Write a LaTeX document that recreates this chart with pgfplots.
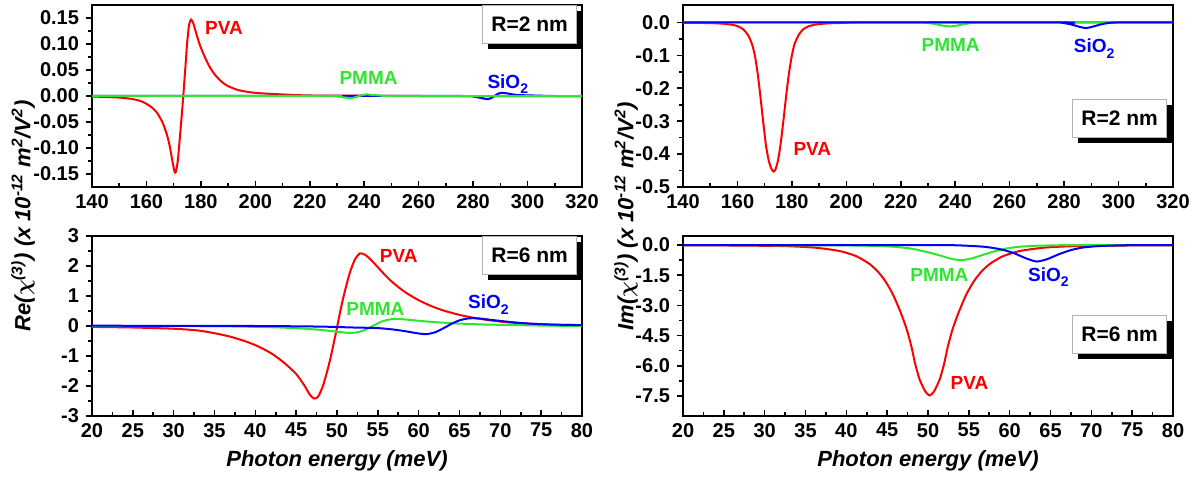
\documentclass[border=0pt]{standalone}
\usepackage{fontspec}
\setmainfont{Liberation Sans}
\usepackage{pgfplots}
\pgfplotsset{compat=1.18}
\usetikzlibrary{shadows}

\definecolor{cred}{RGB}{255,0,0}
\definecolor{cgreen}{RGB}{45,230,45}
\definecolor{cblue}{RGB}{0,0,255}

\newcommand{\sio}{SiO\raisebox{-0.55ex}{\fontsize{7}{8}\selectfont 2}}

\pgfplotsset{
  panel/.style={
    scale only axis, width=245pt,
    axis line style={line width=1pt},
    tick pos=left,
    xtick align=inside, ytick align=outside,
    major tick length=3pt, minor tick length=1.8pt,
    every tick/.style={black, line width=0.8pt},
    minor tick num=1,
    tick label style={font=\bfseries\fontsize{10}{12}\selectfont},
    /pgf/number format/assume math mode=true,
    clip mode=individual,
    every axis plot/.append style={line width=1pt, smooth, tension=0.4},
    xlabel style={font=\bfseries\itshape\fontsize{11}{13}\selectfont},
  },
}
\tikzset{
  lbl/.style={font=\bfseries\fontsize{9.5}{11}\selectfont},
  rbox/.style={draw=gray!60, line width=0.5pt, fill=white,
    minimum width=47pt, minimum height=19pt, inner sep=0pt,
    font=\bfseries\fontsize{10.5}{12}\selectfont,
    drop shadow={shadow xshift=2.8pt, shadow yshift=-2.8pt, fill=black, opacity=1}},
}

\begin{document}
\begin{tikzpicture}
\useasboundingbox (0,0) rectangle (596.5pt,238.5pt);

% Re, R=2 nm
\begin{axis}[panel, at={(46pt,145pt)}, anchor=south west, height=91pt,
  xmin=140, xmax=320, xtick={140,160,...,320},
  ymin=-0.175, ymax=0.175, ytick={-0.15,-0.1,-0.05,0,0.05,0.1,0.15},
  yticklabel style={/pgf/number format/.cd, fixed, fixed zerofill, precision=2}]
\addplot[cred] coordinates {
 (140,-0.001)(150,-0.003)(155,-0.006)(158,-0.010)(160,-0.015)(162,-0.022)
 (164,-0.033)(166,-0.052)(167.5,-0.074)(168.5,-0.095)(169.5,-0.124)(170.3,-0.145)
 (170.8,-0.146)(171.5,-0.125)(172.2,-0.085)(173,-0.035)(173.6,0.005)(174.3,0.055)
 (175,0.105)(175.7,0.138)(176.4,0.147)(177.2,0.140)(178.2,0.122)(179.5,0.100)
 (181,0.080)(183,0.058)(185,0.042)(187.5,0.028)(190,0.019)(194,0.011)(200,0.006)
 (210,0.003)(220,0.001)(240,0.0005)(260,0)(320,0)};
\addplot[cblue] coordinates {
 (140,0)(276,0)(280,-0.001)(283,-0.004)(285.5,-0.006)(287.3,-0.002)(289,0.004)
 (290.5,0.006)(292.5,0.005)(296,0.002)(302,0.001)(310,0)(320,0)};
\addplot[cgreen] coordinates {
 (140,0)(226,0)(230,-0.001)(233,-0.003)(235.5,-0.004)(237.5,-0.001)(239.5,0.002)
 (241,0.003)(243,0.002)(246,0.001)(252,0)(320,0)};
\node[lbl, text=cred, anchor=west] at (axis cs:179,0.13) {PVA};
\node[lbl, text=cgreen] at (axis cs:241.6,0.035) {PMMA};
\node[lbl, text=cblue, anchor=west] at (axis cs:282.7,0.023) {\sio};
\node[rbox, anchor=north east] at (rel axis cs:0.99,1) {R=2 nm};
\end{axis}

% Im, R=2 nm
\begin{axis}[panel, at={(341.5pt,145pt)}, anchor=south west, height=91pt,
  xmin=140, xmax=320, xtick={140,160,...,320},
  ymin=-0.5, ymax=0.053, ytick={-0.5,-0.4,-0.3,-0.2,-0.1,0},
  yticklabel style={/pgf/number format/.cd, fixed, fixed zerofill, precision=1}]
\addplot[cred] coordinates {
 (140,-0.001)(150,-0.002)(155,-0.004)(158,-0.007)(160,-0.011)(162,-0.020)
 (164,-0.040)(165.5,-0.070)(166.5,-0.105)(167.5,-0.160)(168.5,-0.230)(169.5,-0.305)
 (170.5,-0.375)(171.5,-0.420)(172.5,-0.445)(173.3,-0.453)(174,-0.446)(175,-0.415)
 (176,-0.360)(177,-0.290)(178,-0.215)(179,-0.150)(180,-0.100)(181,-0.065)
 (182.5,-0.038)(184,-0.022)(186,-0.012)(189,-0.006)(193,-0.003)(200,-0.001)
 (210,0)(320,0)};
\addplot[cgreen] coordinates {
 (140,0)(225,0)(229,-0.001)(232,-0.004)(235,-0.009)(238,-0.012)(241,-0.009)
 (244,-0.004)(247,-0.001)(251,0)(320,0)};
\addplot[cblue] coordinates {
 (140,0)(276,0)(280,-0.002)(283,-0.007)(286,-0.014)(288,-0.017)(290,-0.014)
 (293,-0.007)(296,-0.002)(300,0)(320,0)};
\node[lbl, text=cred, anchor=west] at (axis cs:178,-0.385) {PVA};
\node[lbl, text=cgreen] at (axis cs:238.3,-0.067) {PMMA};
\node[lbl, text=cblue, anchor=west] at (axis cs:281,-0.08) {\sio};
\node[rbox, anchor=north east] at (rel axis cs:0.988,0.484) {R=2 nm};
\end{axis}

% Re, R=6 nm
\begin{axis}[panel, at={(46pt,30.5pt)}, anchor=south west, height=90pt,
  xmin=20, xmax=80, xtick={20,25,...,80},
  ymin=-3, ymax=3, ytick={-3,-2,-1,0,1,2,3},
  xlabel={Photon energy (meV)}]
\addplot[cred] coordinates {
 (20,-0.03)(25,-0.05)(30,-0.09)(33,-0.15)(35,-0.24)(37,-0.36)(39,-0.53)
 (40.5,-0.70)(42,-0.92)(43.5,-1.22)(45,-1.60)(46,-1.98)(46.7,-2.30)(47.2,-2.42)
 (47.7,-2.35)(48.3,-1.98)(49,-1.30)(49.5,-0.70)(50,-0.05)(50.5,0.62)(51,1.20)
 (51.6,1.80)(52.2,2.22)(52.8,2.42)(53.4,2.38)(54,2.25)(54.8,2.02)(55.6,1.78)
 (56.5,1.53)(57.5,1.30)(58.5,1.10)(60,0.86)(61.5,0.67)(63,0.52)(65,0.37)
 (67,0.26)(69,0.18)(71,0.12)(74,0.07)(77,0.04)(80,0.03)};
\addplot[cgreen] coordinates {
 (20,0)(35,-0.01)(40,-0.03)(43,-0.05)(46,-0.09)(48,-0.13)(50,-0.19)(51.5,-0.23)
 (52.5,-0.21)(53.5,-0.12)(54.5,0.02)(55.5,0.15)(56.5,0.22)(57.5,0.24)(59,0.20)
 (61,0.15)(63,0.11)(65,0.08)(68,0.05)(72,0.03)(76,0.01)(80,0.005)};
\addplot[cblue] coordinates {
 (20,0.01)(40,0)(48,-0.02)(52,-0.05)(55,-0.07)(57,-0.12)(58.5,-0.18)(60,-0.25)
 (61,-0.27)(62,-0.21)(63,-0.08)(64,0.07)(65,0.19)(66,0.25)(66.7,0.26)(67.5,0.25)
 (69,0.20)(71,0.14)(73,0.09)(76,0.05)(80,0.03)};
\node[lbl, text=cred, anchor=west] at (axis cs:54.4,2.35) {PVA};
\node[lbl, text=cgreen] at (axis cs:54.7,0.58) {PMMA};
\node[lbl, text=cblue, anchor=west] at (axis cs:65.2,0.72) {\sio};
\node[rbox, anchor=north east] at (rel axis cs:0.99,1) {R=6 nm};
\end{axis}

% Im, R=6 nm
\begin{axis}[panel, at={(341.5pt,30.5pt)}, anchor=south west, height=90pt,
  xmin=20, xmax=80, xtick={20,25,...,80},
  ymin=-8.5, ymax=0.45, ytick={-7.5,-6,-4.5,-3,-1.5,0},
  yticklabel style={/pgf/number format/.cd, fixed, fixed zerofill, precision=1},
  xlabel={Photon energy (meV)}]
\addplot[cred] coordinates {
 (20,-0.01)(25,-0.02)(32.2,-0.05)(36.2,-0.13)(39.2,-0.30)(41.2,-0.55)(42.7,-0.90)
 (43.7,-1.25)(44.7,-1.75)(45.7,-2.45)(46.7,-3.40)(47.4,-4.20)(48.0,-5.10)
 (48.4,-5.86)(48.9,-6.60)(49.2,-6.90)(49.7,-7.30)(50.2,-7.48)(50.7,-7.30)
 (51.2,-6.90)(51.5,-6.60)(52.0,-5.86)(52.4,-5.10)(53.0,-4.20)(53.7,-3.40)
 (54.7,-2.45)(55.7,-1.75)(56.7,-1.25)(57.7,-0.90)(59.2,-0.55)(61.2,-0.30)
 (64.2,-0.13)(68.2,-0.05)(75,-0.02)(80,-0.01)};
\addplot[cgreen] coordinates {
 (20,0)(40,-0.02)(44,-0.05)(46,-0.09)(48,-0.18)(50,-0.36)(51.5,-0.52)(52.8,-0.68)
 (54,-0.75)(55.2,-0.68)(56.5,-0.52)(58,-0.33)(59.5,-0.18)(61,-0.09)(63,-0.04)
 (66,-0.01)(70,0)(80,0)};
\addplot[cblue] coordinates {
 (20,0)(50,0)(54,-0.02)(57,-0.09)(59,-0.22)(60.5,-0.40)(62,-0.66)(63.3,-0.82)
 (64.6,-0.70)(66,-0.46)(67.5,-0.25)(69,-0.12)(71,-0.05)(74,-0.01)(77,0)(80,0)};
\node[lbl, text=cred, anchor=west] at (axis cs:51.9,-6.85) {PVA};
\node[lbl, text=cgreen] at (axis cs:51.4,-1.48) {PMMA};
\node[lbl, text=cblue, anchor=west] at (axis cs:61.4,-1.6) {\sio};
\node[rbox, anchor=north east] at (rel axis cs:0.988,0.561) {R=6 nm};
\end{axis}

\node[rotate=90, font=\bfseries\itshape\fontsize{11}{13}\selectfont] at (11.5pt,130.5pt)
  {Re({\boldmath$\chi$}\textsuperscript{(3)}) (x 10\textsuperscript{-12} m\textsuperscript{2}/V\textsuperscript{2})};
\node[rotate=90, font=\bfseries\itshape\fontsize{11}{13}\selectfont] at (313pt,130.5pt)
  {Im({\boldmath$\chi$}\textsuperscript{(3)}) (x 10\textsuperscript{-12} m\textsuperscript{2}/V\textsuperscript{2})};
\end{tikzpicture}
\end{document}
